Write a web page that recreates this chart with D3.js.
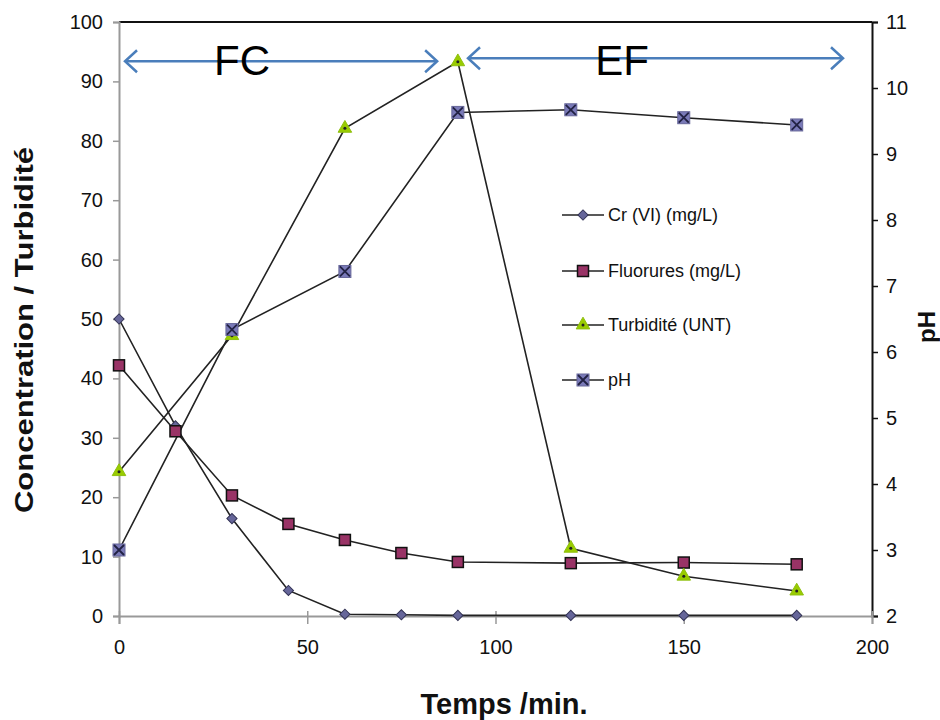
<!DOCTYPE html>
<html><head><meta charset="utf-8">
<script src="https://cdn.jsdelivr.net/npm/d3@7"></script>
<style>
body{margin:0;background:#fff;}
svg{display:block;font-family:"Liberation Sans",Arial,sans-serif;}
</style></head>
<body><svg id="c" width="940" height="720"></svg>
<script>
// ---- data ----
const timeCr = [0,15,30,45,60,75,90,120,150,180];
const crVI = [50,32,16.4,4.3,0.3,0.2,0.1,0.1,0.1,0.1];
const timeF = [0,15,30,45,60,75,90,120,150,180];
const fluorures = [42.2,31.1,20.3,15.5,12.8,10.6,9.1,8.9,9.0,8.7];
const timeT = [0,30,60,90,120,150,180];
const turbidite = [24.3,47.2,82.1,93.3,11.4,6.7,4.2];
const timePH = [0,30,60,90,120,150,180];
const pH = [3.0,6.34,7.22,9.63,9.67,9.55,9.44];
const xTicks = [0,50,100,150,200];
const yLeftTicks = [0,10,20,30,40,50,60,70,80,90,100];
const yRightTicks = [2,3,4,5,6,7,8,9,10,11];
const seriesNames = ["Cr (VI) (mg/L)","Fluorures  (mg/L)","Turbidité (UNT)","pH"];
const phases = [{label:"FC", from:1.6, to:84.5, mid:32.7, level:93.4},
                {label:"EF", from:92.7, to:192.3, mid:133.6, level:93.9}];

const svg = d3.select("#c");
const x = d3.scaleLinear().domain([0,200]).range([119,872]);
const yL = d3.scaleLinear().domain([0,100]).range([616,22]);
const yR = d3.scaleLinear().domain([2,11]).range([616,22]);

// frame top line
svg.append("line").attr("x1",x(0)).attr("x2",x(200)).attr("y1",yL(100)).attr("y2",yL(100))
  .attr("stroke","#111").attr("stroke-width",2);

// left axis
const gL = svg.append("g").attr("transform",`translate(${x(0)},0)`)
  .call(d3.axisLeft(yL).tickValues(yLeftTicks).tickSize(6).tickPadding(10));
gL.select(".domain").attr("stroke","#999").attr("stroke-width",2);
gL.selectAll(".tick line").attr("stroke","#999").attr("stroke-width",1.5);
gL.selectAll("text").attr("font-size",20).attr("fill","#111");

// right axis
const gR = svg.append("g").attr("transform",`translate(${x(200)},0)`)
  .call(d3.axisRight(yR).tickValues(yRightTicks).tickSize(6).tickPadding(8));
gR.select(".domain").attr("stroke","#111").attr("stroke-width",2);
gR.selectAll(".tick line").attr("stroke","#111").attr("stroke-width",1.5);
gR.selectAll("text").attr("font-size",20).attr("fill","#111");

// bottom axis
const gB = svg.append("g").attr("transform",`translate(0,${yL(0)})`)
  .call(d3.axisBottom(x).tickValues(xTicks).tickSize(8).tickPadding(16));
gB.select(".domain").attr("stroke","#999").attr("stroke-width",2);
gB.selectAll(".tick line").attr("stroke","#999").attr("stroke-width",1.5).attr("y1",-5);
gB.selectAll("text").attr("font-size",20).attr("fill","#111");

// axis titles
svg.append("text").attr("transform",`translate(33,330) rotate(-90) scale(1.24,1)`).attr("text-anchor","middle")
  .attr("font-size",25).attr("font-weight","bold").attr("fill","#111").text("Concentration / Turbidité");
svg.append("text").attr("transform",`translate(935,327) rotate(-90)`).attr("text-anchor","middle")
  .attr("font-size",24).attr("font-weight","bold").attr("fill","#111").text("pH");
svg.append("text").attr("x",504).attr("y",714).attr("text-anchor","middle")
  .attr("font-size",29).attr("font-weight","bold").attr("fill","#111").text("Temps /min.");

// phase arrows
const arrowCol = "#4a7ebb";
phases.forEach(p=>{
  const y0 = yL(p.level), a = x(p.from), b = x(p.to);
  svg.append("line").attr("x1",a).attr("x2",b).attr("y1",y0).attr("y2",y0)
    .attr("stroke",arrowCol).attr("stroke-width",2.5);
  svg.append("path").attr("d",`M${a+12},${y0-11}L${a},${y0}L${a+12},${y0+11}`)
    .attr("fill","none").attr("stroke",arrowCol).attr("stroke-width",2.5);
  svg.append("path").attr("d",`M${b-12},${y0-11}L${b},${y0}L${b-12},${y0+11}`)
    .attr("fill","none").attr("stroke",arrowCol).attr("stroke-width",2.5);
  svg.append("text").attr("x",x(p.mid)).attr("y",75).attr("text-anchor","middle")
    .attr("font-size",42).attr("fill","#000").text(p.label);
});

// series
const lineCol = "#222";
function drawLine(ts, vs, ys){
  svg.append("path").datum(ts.map((t,i)=>[t,vs[i]]))
    .attr("d", d3.line().x(d=>x(d[0])).y(d=>ys(d[1])))
    .attr("fill","none").attr("stroke",lineCol).attr("stroke-width",1.6);
}
const markers = [
  (g)=>g.append("rect").attr("x",-3.6).attr("y",-3.6).attr("width",7.2).attr("height",7.2).attr("transform","rotate(45)")
        .attr("fill","#66669a").attr("stroke","#333355").attr("stroke-width",1),
  (g)=>g.append("rect").attr("x",-5.5).attr("y",-5.5).attr("width",11).attr("height",11).attr("fill","#993366").attr("stroke","#111").attr("stroke-width",1.5),
  (g)=>{g.append("path").attr("d",d3.symbol(d3.symbolTriangle,80)()).attr("fill","#99cc00").attr("stroke","#8fbf10").attr("stroke-width",1);
        g.append("circle").attr("r",1.5).attr("fill","#222");},
  (g)=>{g.append("rect").attr("x",-6).attr("y",-6).attr("width",12).attr("height",12).attr("fill","#7a7ab8").attr("stroke","#666699").attr("stroke-width",1);
        g.append("path").attr("d","M-5,-5L5,5M-5,5L5,-5").attr("stroke","#222244").attr("stroke-width",1.8);}
];
function drawPoints(ts, vs, ys, mk){
  ts.forEach((t,i)=>{ const g = svg.append("g").attr("transform",`translate(${x(t)},${ys(vs[i])})`); mk(g); });
}
drawLine(timeCr, crVI, yL);
drawLine(timeF, fluorures, yL);
drawLine(timeT, turbidite, yL);
drawLine(timePH, pH, yR);
drawPoints(timeCr, crVI, yL, markers[0]);
drawPoints(timeF, fluorures, yL, markers[1]);
drawPoints(timeT, turbidite, yL, markers[2]);
drawPoints(timePH, pH, yR, markers[3]);

// legend
const legY = [215,271,325,380];
seriesNames.forEach((n,i)=>{
  const g = svg.append("g").attr("transform",`translate(562,${legY[i]})`);
  g.append("line").attr("x1",0).attr("x2",42).attr("stroke",lineCol).attr("stroke-width",1.6);
  markers[i](g.append("g").attr("transform","translate(21,0)"));
  g.append("text").attr("x",46).attr("y",6).attr("font-size",18).attr("fill","#111").text(n);
});
</script></body></html>
